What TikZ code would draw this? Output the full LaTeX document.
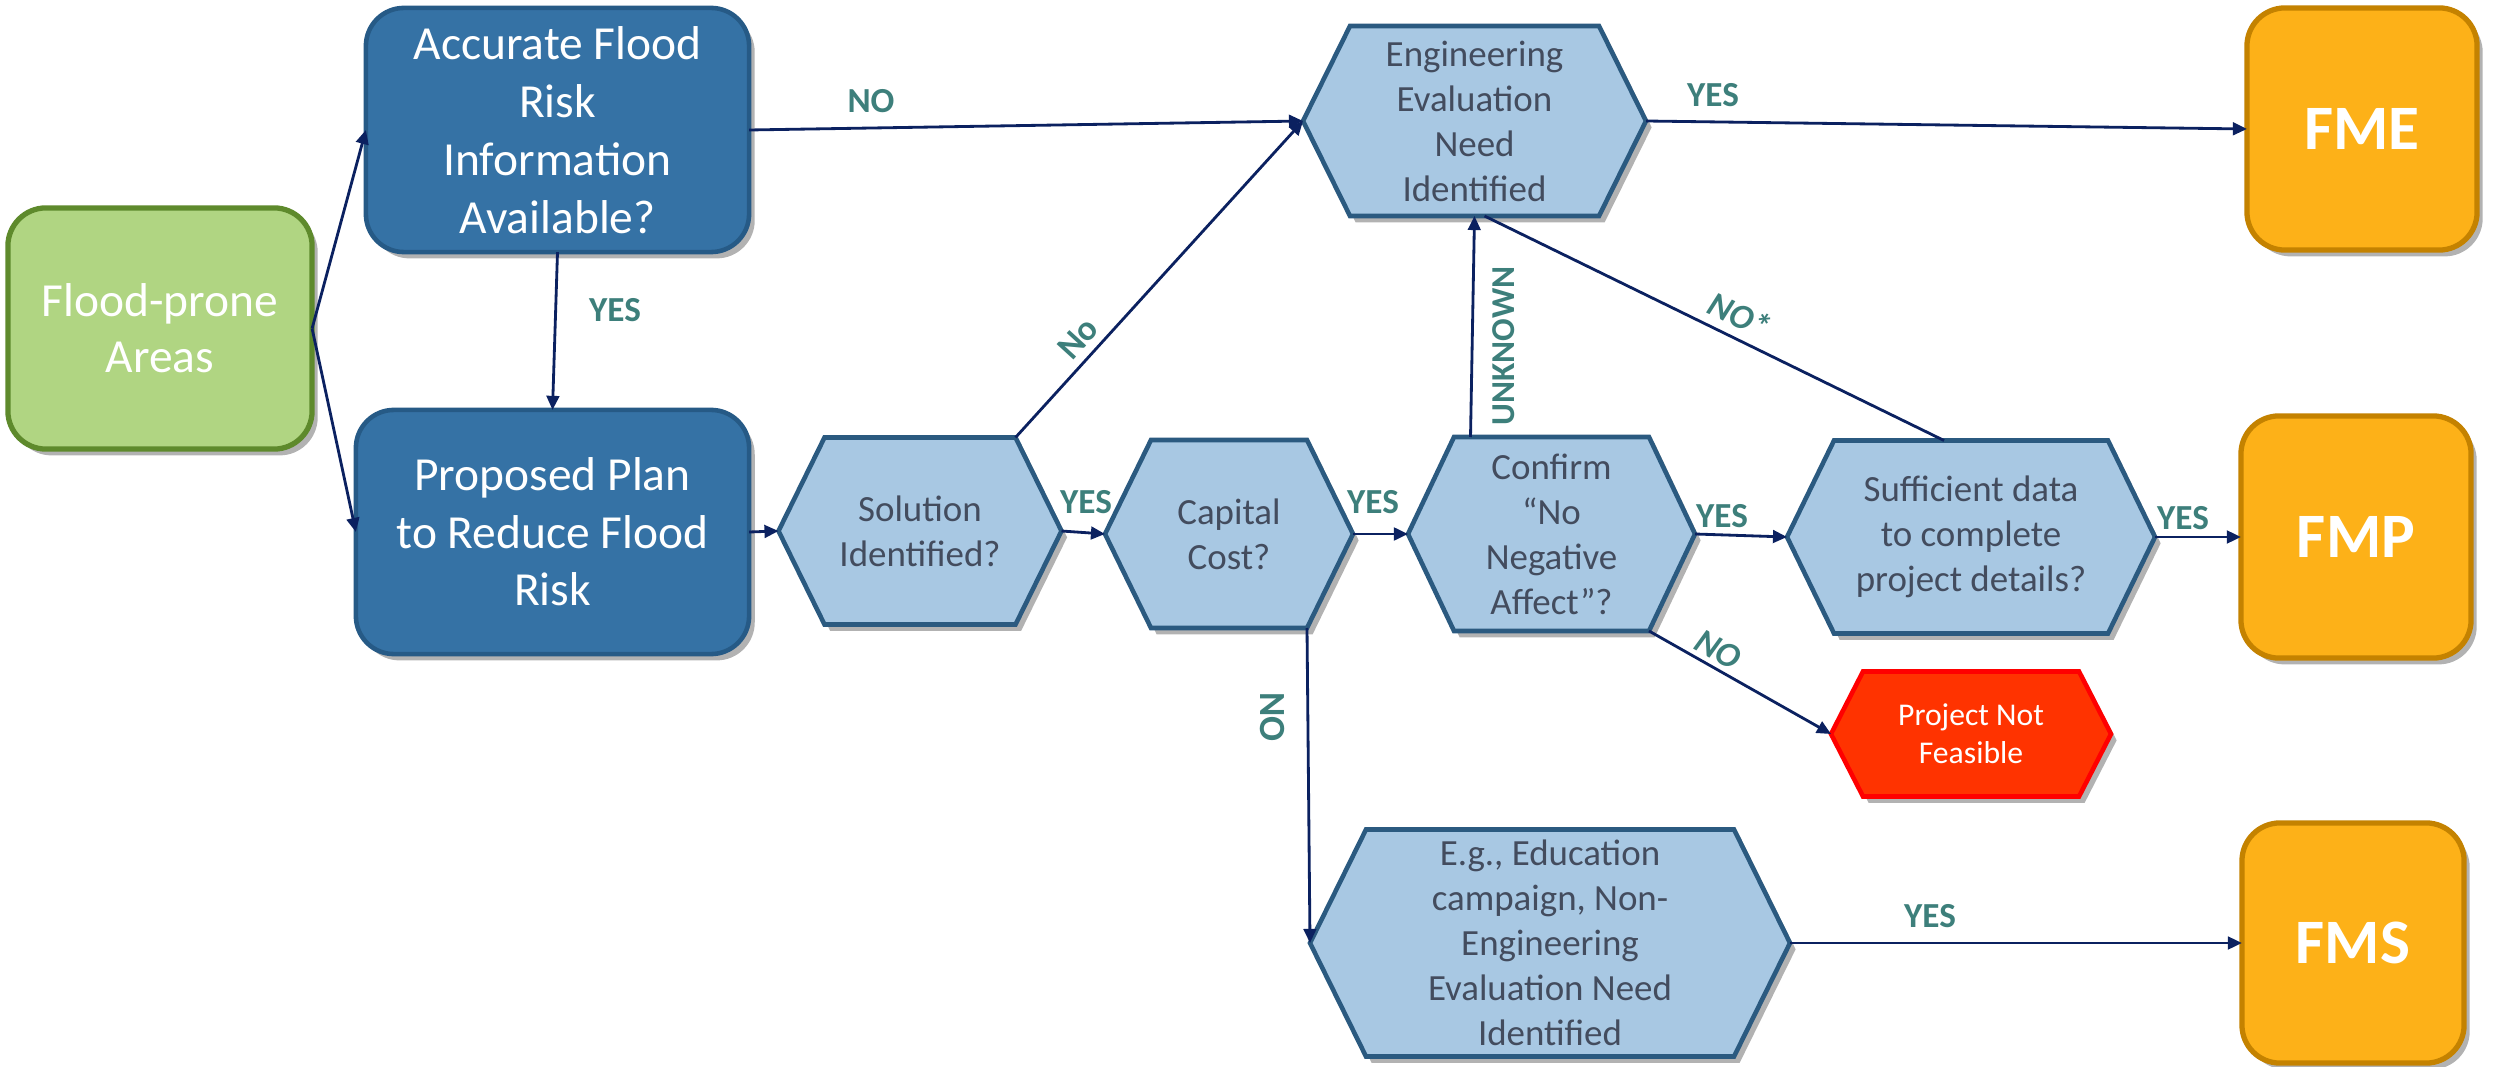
\documentclass[tikz,border=0pt]{standalone}
\usepackage{fontspec}
\setmainfont{Carlito}
\usetikzlibrary{arrows.meta,shadows,calc}
\definecolor{grfill}{HTML}{B0D582}
\definecolor{grborder}{HTML}{5E8A2C}
\definecolor{dbfill}{HTML}{3572A5}
\definecolor{dbborder}{HTML}{265A86}
\definecolor{hexfill}{HTML}{A8C8E3}
\definecolor{hexborder}{HTML}{2B5A80}
\definecolor{hextext}{HTML}{434C5E}
\definecolor{orfill}{HTML}{FDB118}
\definecolor{orborder}{HTML}{C48200}
\definecolor{redfill}{HTML}{FF3300}
\definecolor{redborder}{HTML}{FF0000}
\definecolor{labcol}{HTML}{3D7F7B}
\definecolor{arrcol}{HTML}{0B2160}
\tikzset{
  shad/.style={drop shadow={shadow xshift=1.6pt, shadow yshift=-1.8pt, opacity=0.3, fill=black}},
  rbox/.style={rectangle, rounded corners=0.38cm, inner sep=0pt, outer sep=0pt, line width=1.3pt, align=center, text=white, shad},
  hexst/.style={fill=hexfill, draw=hexborder, line width=1.3pt, shad},
  redst/.style={fill=redfill, draw=redborder, line width=1.3pt, shad},
  hextxt/.style={text=hextext, align=center, font=\fontsize{10.5}{12.8}\selectfont},
  redtxt/.style={text=white, align=center, font=\fontsize{9}{10.9}\selectfont},
  lbl/.style={text=labcol, inner sep=0pt, font=\fontsize{10}{12}\selectfont\bfseries},
  arr/.style={draw=arrcol, line width=0.8pt, -{Triangle[length=4pt,width=3.6pt]}},
  plainline/.style={draw=arrcol, line width=0.8pt},
}
% name, cx, cy, w, h, inset, shape style, text style, text
\newcommand{\hexshape}[9]{%
  \path[#7] (#2-#4/2,#3) -- (#2-#4/2+#6,#3-#5/2) -- (#2+#4/2-#6,#3-#5/2) -- (#2+#4/2,#3) -- (#2+#4/2-#6,#3+#5/2) -- (#2-#4/2+#6,#3+#5/2) -- cycle;
  \node[#8, draw=none, inner sep=0pt, outer sep=0pt, minimum width=#4*0.01cm, minimum height=#5*0.01cm] (#1) at (#2,#3) {#9};
}
\begin{document}
\begin{tikzpicture}[x=0.01cm,y=-0.01cm]
\useasboundingbox[fill=white] (0,0) rectangle (2503,1067);

% rounded boxes
\node[rbox, fill=grfill, draw=grborder, line width=1.5pt, minimum width=3.04cm, minimum height=2.41cm, font=\fontsize{13.5}{16}\selectfont] (fpa) at (160,328.5) {Flood-prone\\Areas};
\node[rbox, fill=dbfill, draw=dbborder, minimum width=3.83cm, minimum height=2.44cm, font=\fontsize{13.5}{16.5}\selectfont] (acc) at (557.5,130) {Accurate Flood\\Risk\\Information\\Available?};
\node[rbox, fill=dbfill, draw=dbborder, minimum width=3.93cm, minimum height=2.44cm, font=\fontsize{13.5}{16.3}\selectfont] (prop) at (552.5,532) {Proposed Plan\\to Reduce Flood\\Risk};
\node[rbox, fill=orfill, draw=orborder, line width=1.5pt, minimum width=2.30cm, minimum height=2.42cm, font=\fontsize{18}{20}\selectfont\bfseries] (fme) at (2362,129) {FME};
\node[rbox, fill=orfill, draw=orborder, line width=1.5pt, minimum width=2.30cm, minimum height=2.42cm, font=\fontsize{18}{20}\selectfont\bfseries] (fmp) at (2356,537) {FMP};
\node[rbox, fill=orfill, draw=orborder, line width=1.5pt, minimum width=2.22cm, minimum height=2.40cm, font=\fontsize{18}{20}\selectfont\bfseries] (fms) at (2353,943) {FMS};

% hexagons
\hexshape{eng}{1474.5}{121}{343}{190}{47}{hexst}{hextxt}{Engineering\\Evaluation\\Need\\Identified}
\hexshape{sol}{920}{531}{283}{187}{46}{hexst}{hextxt}{Solution\\Identified?}
\hexshape{cap}{1229}{534}{248}{188}{46}{hexst}{hextxt}{Capital\\Cost?}
\hexshape{conf}{1551.5}{534}{287}{194}{46}{hexst}{hextxt}{Confirm\\“No\\Negative\\Affect”?}
\hexshape{suf}{1971}{537}{368}{193}{47}{hexst}{hextxt}{Sufficient data\\to complete\\project details?}
\hexshape{eg}{1550}{943}{480}{227}{56}{hexst}{hextxt}{E.g., Education\\campaign, Non-\\Engineering\\Evaluation Need\\Identified}
\hexshape{pnf}{1971}{734}{280}{125}{32}{redst}{redtxt}{Project Not\\Feasible}

% helper coordinates
\coordinate (solTR) at ($(sol.north east)+(-46,0)$);
\coordinate (capBR) at ($(cap.south east)+(-46,0)$);
\coordinate (confBR) at ($(conf.south east)+(-46,0)$);
\coordinate (confT) at ($(conf.north)+(-81,0)$);
\coordinate (sufT) at ($(suf.north)+(-27,0)$);
\coordinate (engB) at ($(eng.south)+(10,0)$);

% connectors
\draw[arr] (fpa.east) -- (acc.west);
\draw[arr] (fpa.east) -- (prop.west);
\draw[arr] (acc.south) -- (prop.north);
\draw[arr] (acc.east) -- (eng.west);
\draw[arr] (eng.east) -- (fme.west);
\draw[arr] (prop.east) -- (sol.west);
\draw[arr] (sol.east) -- (cap.west);
\draw[arr] (cap.east) -- (conf.west);
\draw[arr] (conf.east) -- (suf.west);
\draw[arr] (suf.east) -- (fmp.west);
\draw[arr] (eg.east) -- (fms.west);
\draw[arr] (solTR) -- (eng.west);
\draw[arr] (confT) -- (eng.south);
\draw[plainline] (sufT) -- (engB);
\draw[arr] (capBR) -- (eg.west);
\draw[arr] (confBR) -- (pnf.west);

% labels
\node[lbl] (l1) at (615,310) {YES};
\node[lbl] (l2) at (871,101) {NO};
\node[lbl] (l3) at (1713,95) {YES};
\node[lbl, rotate=47.6] (l4) at (1078,338) {No};
\node[lbl, rotate=90, font=\fontsize{9.5}{11}\selectfont\bfseries] (l5) at (1504,346) {UNKNOWN};
\node[lbl, rotate=-25.5, font=\fontsize{10}{12}\selectfont\bfseries\itshape] (l6) at (1740,315) {NO*};
\node[lbl] (l7) at (1086,502) {YES};
\node[lbl] (l8) at (1373,502) {YES};
\node[lbl] (l9) at (1722,516) {YES};
\node[lbl] (l10) at (2183,518) {YES};
\node[lbl, rotate=-90, font=\fontsize{10.5}{12}\selectfont\bfseries] (l11) at (1272,717) {NO};
\node[lbl, rotate=-29, font=\fontsize{10}{12}\selectfont\bfseries\itshape] (l12) at (1718,650) {NO};
\node[lbl] (l13) at (1930,916) {YES};
\end{tikzpicture}
\end{document}
